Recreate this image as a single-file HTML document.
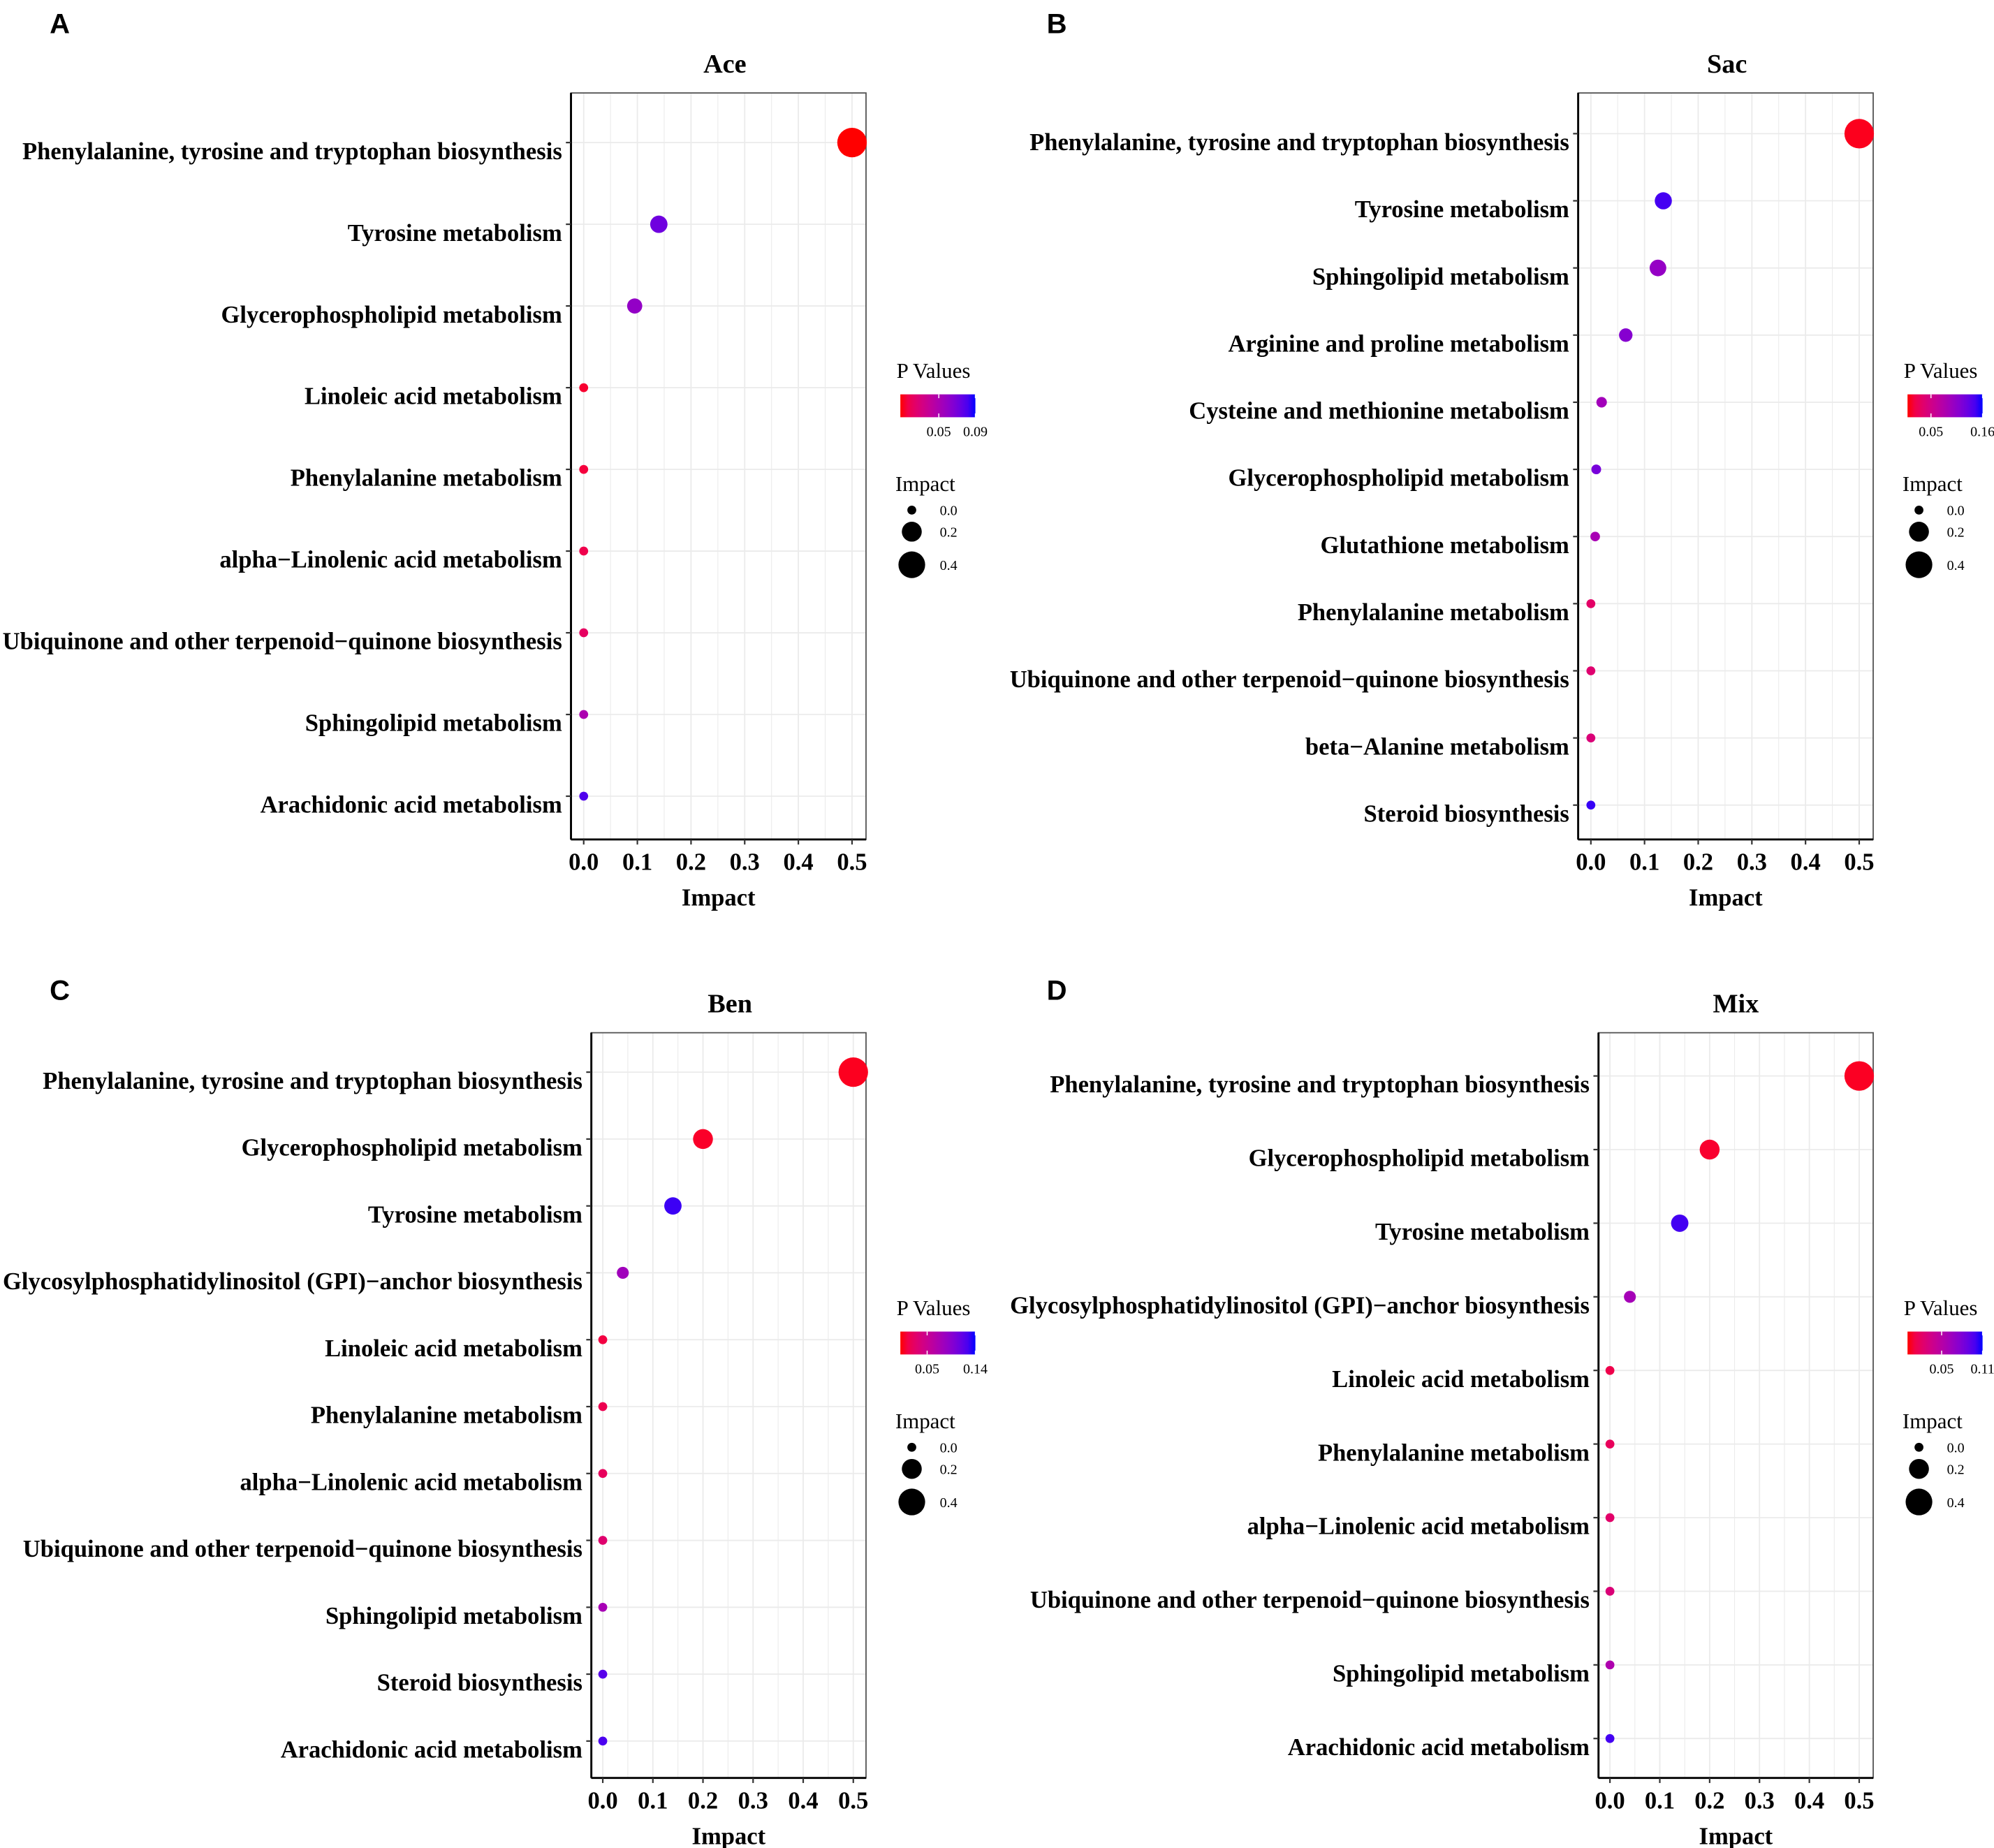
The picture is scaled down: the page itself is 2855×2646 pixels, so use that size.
<!DOCTYPE html>
<html><head><meta charset="utf-8"><style>
html,body{margin:0;padding:0;background:#fff;}
svg{display:block;}
</style></head><body>
<svg id="fig" width="2855" height="2646" viewBox="0 0 1568 1453" xmlns="http://www.w3.org/2000/svg" font-family="Liberation Serif, serif"></svg>
<script>
// ---- Data ----
const aLabels=["Phenylalanine, tyrosine and tryptophan biosynthesis","Tyrosine metabolism","Glycerophospholipid metabolism","Linoleic acid metabolism","Phenylalanine metabolism","alpha\u2212Linolenic acid metabolism","Ubiquinone and other terpenoid\u2212quinone biosynthesis","Sphingolipid metabolism","Arachidonic acid metabolism"];
const aImpact=[0.5,0.14,0.095,0,0,0,0,0,0];
const aP=[0.008,0.072,0.06,0.012,0.014,0.017,0.022,0.05,0.08];
const aTicks=["0.05","0.09"];
const bLabels=["Phenylalanine, tyrosine and tryptophan biosynthesis","Tyrosine metabolism","Sphingolipid metabolism","Arginine and proline metabolism","Cysteine and methionine metabolism","Glycerophospholipid metabolism","Glutathione metabolism","Phenylalanine metabolism","Ubiquinone and other terpenoid\u2212quinone biosynthesis","beta\u2212Alanine metabolism","Steroid biosynthesis"];
const bImpact=[0.5,0.135,0.125,0.065,0.02,0.01,0.008,0,0,0,0];
const bP=[0.003,0.145,0.1,0.11,0.09,0.12,0.085,0.03,0.035,0.04,0.15];
const bTicks=["0.05","0.16"];
const cLabels=["Phenylalanine, tyrosine and tryptophan biosynthesis","Glycerophospholipid metabolism","Tyrosine metabolism","Glycosylphosphatidylinositol (GPI)\u2212anchor biosynthesis","Linoleic acid metabolism","Phenylalanine metabolism","alpha\u2212Linolenic acid metabolism","Ubiquinone and other terpenoid\u2212quinone biosynthesis","Sphingolipid metabolism","Steroid biosynthesis","Arachidonic acid metabolism"];
const cImpact=[0.5,0.2,0.14,0.04,0,0,0,0,0,0,0];
const cP=[0.003,0.005,0.13,0.08,0.012,0.017,0.022,0.03,0.075,0.12,0.125];
const cTicks=["0.05","0.14"];
const dLabels=["Phenylalanine, tyrosine and tryptophan biosynthesis","Glycerophospholipid metabolism","Tyrosine metabolism","Glycosylphosphatidylinositol (GPI)\u2212anchor biosynthesis","Linoleic acid metabolism","Phenylalanine metabolism","alpha\u2212Linolenic acid metabolism","Ubiquinone and other terpenoid\u2212quinone biosynthesis","Sphingolipid metabolism","Arachidonic acid metabolism"];
const dImpact=[0.5,0.2,0.14,0.04,0,0,0,0,0,0];
const dP=[0.003,0.005,0.1,0.06,0.012,0.017,0.022,0.027,0.055,0.1];
const dTicks=["0.05","0.11"];
const xTickLabels=["0.0","0.1","0.2","0.3","0.4","0.5"];
const sizeLegend=["0.0","0.2","0.4"];

const NS="http://www.w3.org/2000/svg";
const svg=document.getElementById('fig');
function mk(tag,attrs,parent,txt){const e=document.createElementNS(NS,tag);for(const k in attrs)e.setAttribute(k,attrs[k]);if(txt!==undefined)e.textContent=txt;(parent||svg).appendChild(e);return e;}
function colF(f){f=Math.max(0,Math.min(1,f));const r=Math.round(255*Math.pow(1-f,0.55)),b=Math.round(255*Math.pow(f,0.55));return `rgb(${r},0,${b})`;}
function col(p,pmin,pmax){return colF((p-pmin)/(pmax-pmin));}
function rad(v){return Math.sqrt(12.25+245*v);}

function panel(o){
  const g=mk('g',{});
  
  
  const xs=v=>o.x0+(o.x5-o.x0)*v/0.5;
  const n=o.labels.length;
  const ys=i=>o.yFirst+(o.yLast-o.yFirst)*i/(n-1);
  for(let k=0;k<=10;k++){const v=k*0.05;mk('line',{x1:xs(v),x2:xs(v),y1:o.top,y2:o.bot,stroke:'#ebebeb','stroke-width':k%2?0.6:1},g);}
  for(let i=0;i<n;i++){mk('line',{x1:o.left,x2:o.right,y1:ys(i),y2:ys(i),stroke:'#ebebeb','stroke-width':1},g);}
  mk('rect',{x:o.left,y:o.top,width:o.right-o.left,height:o.bot-o.top,fill:'none',stroke:'#555','stroke-width':1},g);
  mk('line',{x1:o.left,x2:o.left,y1:o.top,y2:o.bot,stroke:'#000','stroke-width':1.6},g);
  mk('line',{x1:o.left,x2:o.right,y1:o.bot,y2:o.bot,stroke:'#000','stroke-width':1.6},g);
  const tt=mk('text',{x:o.tx,y:o.top-16,'font-size':21,'font-weight':'bold','text-anchor':'middle'},g,o.title);
  
  const lt=mk('text',{x:o.lx,y:o.ly,'font-family':'Liberation Sans, sans-serif','font-size':22,'font-weight':'bold','text-anchor':'middle'},g,o.letter);
  
  xTickLabels.forEach((s,k)=>{const v=k*0.1;mk('line',{x1:xs(v),x2:xs(v),y1:o.bot,y2:o.bot+4,stroke:'#333','stroke-width':1.2},g);
    const t=mk('text',{x:xs(v),y:o.bot+24,'font-size':19,'font-weight':'bold','text-anchor':'middle'},g,s);
    });
  const xt=mk('text',{x:(o.left+o.right)/2,y:o.bot+52,'font-size':19,'font-weight':'bold','text-anchor':'middle'},g,'Impact');
  
  for(let i=0;i<n;i++){
    mk('line',{x1:o.left-4,x2:o.left,y1:ys(i),y2:ys(i),stroke:'#333','stroke-width':1.2},g);
    const t=mk('text',{x:o.left-7,y:ys(i)+13,'font-size':19,'font-weight':'bold','text-anchor':'end'},g,o.labels[i]);
    
    const c=mk('circle',{cx:xs(o.impact[i]),cy:ys(i),r:rad(o.impact[i]),fill:col(o.p[i],o.pmin,o.pmax)},g);
    
  }
  const L=o.legX;
  const pt=mk('text',{x:L,y:o.legY,'font-size':17},g,'P Values');
  
  const gid='grad'+o.letter;
  const gr=mk('linearGradient',{id:gid,x1:0,x2:1,y1:0,y2:0},g);
  for(let s=0;s<=10;s++)mk('stop',{offset:s/10,'stop-color':colF(s/10)},gr);
  const bx=L+3,bw=59,by=o.legY+13,bh=18;
  const cb=mk('rect',{x:bx,y:by,width:bw,height:bh,fill:`url(#${gid})`},g);
  
  o.ticks.forEach(s=>{const v=parseFloat(s);const tx=bx+bw*(v-o.pmin)/(o.pmax-o.pmin);
    mk('line',{x1:tx,x2:tx,y1:by,y2:by+3,stroke:'#fff','stroke-width':0.8},g);mk('line',{x1:tx,x2:tx,y1:by+bh-3,y2:by+bh,stroke:'#fff','stroke-width':0.8},g);
    const t=mk('text',{x:tx,y:by+bh+15,'font-size':11,'text-anchor':'middle'},g,s);
    });
  const it=mk('text',{x:L-1,y:o.legY+89,'font-size':17},g,'Impact');
  
  const sy=[o.legY+104,o.legY+121,o.legY+147];
  sizeLegend.forEach((s,k)=>{const v=parseFloat(s);
    const c=mk('circle',{cx:L+12,cy:sy[k],r:rad(v),fill:'#000'},g);
    
    const t=mk('text',{x:L+34,y:sy[k]+4,'font-size':11},g,s);
    });
}
panel({letter:'A',lx:47,ly:26,title:'Ace',tx:570,labels:aLabels,impact:aImpact,p:aP,pmin:0.008,pmax:0.09,ticks:aTicks,
  left:449,right:681,top:73,bot:660,x0:459,x5:670,yFirst:112,yLast:626,legX:705,legY:297});
panel({letter:'B',lx:831,ly:26,title:'Sac',tx:1358,labels:bLabels,impact:bImpact,p:bP,pmin:0.0,pmax:0.16,ticks:bTicks,
  left:1241,right:1473,top:73,bot:660,x0:1251,x5:1462,yFirst:105,yLast:633,legX:1497,legY:297});
panel({letter:'C',lx:47,ly:786,title:'Ben',tx:574,labels:cLabels,impact:cImpact,p:cP,pmin:0.0,pmax:0.14,ticks:cTicks,
  left:465,right:681,top:812,bot:1398,x0:474,x5:671,yFirst:843,yLast:1369,legX:705,legY:1034});
panel({letter:'D',lx:831,ly:786,title:'Mix',tx:1365,labels:dLabels,impact:dImpact,p:dP,pmin:0.0,pmax:0.11,ticks:dTicks,
  left:1257,right:1473,top:812,bot:1398,x0:1266,x5:1462,yFirst:846,yLast:1367,legX:1497,legY:1034});
</script>
</body></html>
